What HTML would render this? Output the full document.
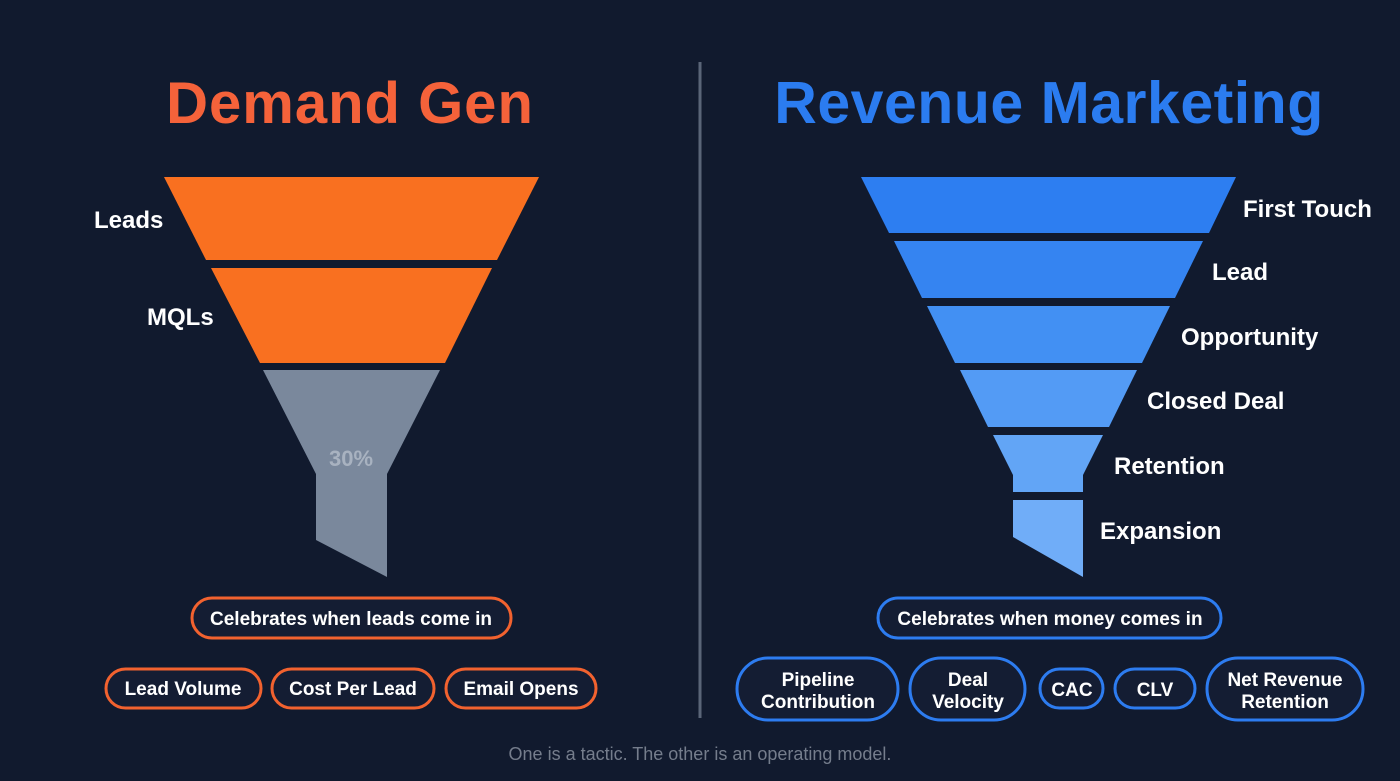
<!DOCTYPE html>
<html><head><meta charset="utf-8"><style>
html,body{margin:0;padding:0;background:#111a2e;}
svg{display:block}
text{font-family:"Liberation Sans",sans-serif;}
</style></head><body>
<svg width="1400" height="781" viewBox="0 0 1400 781" xmlns="http://www.w3.org/2000/svg">
<rect width="1400" height="781" fill="#111a2e"/>
<line x1="700" y1="62" x2="700" y2="718" stroke="#5a6578" stroke-width="3"/>
<text x="350" y="123" text-anchor="middle" font-size="58" font-weight="bold" letter-spacing="1" fill="#f5623a">Demand Gen</text>
<text x="1049" y="123" text-anchor="middle" font-size="59" font-weight="bold" letter-spacing="0.5" fill="#2b7cf0">Revenue Marketing</text>

<!-- left funnel -->
<polygon points="164,177 539,177 497,260 206,260" fill="#f97020"/>
<polygon points="211,268 492,268 445,363 260,363" fill="#f97020"/>
<polygon points="263,370 440,370 387,474 387,577 316,540 316,474" fill="#7a889c"/>
<text x="351" y="466" text-anchor="middle" font-size="22" font-weight="bold" fill="#a8b2c0">30%</text>
<g font-size="24" font-weight="bold" fill="#fff">
<text x="94" y="228">Leads</text>
<text x="147" y="325">MQLs</text>
</g>

<!-- right funnel -->
<polygon points="861,177 1236,177 1209,233 889,233" fill="#2d7ef1"/>
<polygon points="894,241 1203,241 1175,298 922,298" fill="#3584f1"/>
<polygon points="927,306 1170,306 1142,363 955,363" fill="#4290f3"/>
<polygon points="960,370 1137,370 1109,427 988,427" fill="#539bf5"/>
<polygon points="993,435 1103,435 1083,475 1083,492 1013,492 1013,475" fill="#62a5f6"/>
<polygon points="1013,500 1083,500 1083,577 1013,537" fill="#70adf8"/>
<g font-size="24" font-weight="bold" fill="#fff">
<text x="1243" y="217">First Touch</text>
<text x="1212" y="280">Lead</text>
<text x="1181" y="345">Opportunity</text>
<text x="1147" y="409">Closed Deal</text>
<text x="1114" y="474">Retention</text>
<text x="1100" y="539">Expansion</text>
</g>

<!-- left pills -->
<g fill="#141d33" stroke="#f2622f" stroke-width="3">
<rect x="192" y="598" width="319" height="40" rx="20"/>
<rect x="106" y="669" width="155" height="39" rx="19.5"/>
<rect x="272" y="669" width="162" height="39" rx="19.5"/>
<rect x="446" y="669" width="150" height="39" rx="19.5"/>
</g>
<g font-size="19" font-weight="bold" fill="#fff" text-anchor="middle">
<text x="351" y="625">Celebrates when leads come in</text>
<text x="183" y="695">Lead Volume</text>
<text x="353" y="695">Cost Per Lead</text>
<text x="521" y="695">Email Opens</text>
</g>

<!-- right pills -->
<g fill="#141d33" stroke="#2d7cf0" stroke-width="3">
<rect x="878" y="598" width="343" height="40" rx="20"/>
<rect x="737" y="658" width="161" height="62" rx="31"/>
<rect x="910" y="658" width="115" height="62" rx="31"/>
<rect x="1040" y="669" width="63" height="39" rx="19.5"/>
<rect x="1115" y="669" width="80" height="39" rx="19.5"/>
<rect x="1207" y="658" width="156" height="62" rx="31"/>
</g>
<g font-size="19" font-weight="bold" fill="#fff" text-anchor="middle">
<text x="1050" y="625">Celebrates when money comes in</text>
<text x="818" y="686">Pipeline</text>
<text x="818" y="708">Contribution</text>
<text x="968" y="686">Deal</text>
<text x="968" y="708">Velocity</text>
<text x="1072" y="696">CAC</text>
<text x="1155" y="696">CLV</text>
<text x="1285" y="686">Net Revenue</text>
<text x="1285" y="708">Retention</text>
</g>

<text x="700" y="760" text-anchor="middle" font-size="18" fill="#757d8c">One is a tactic. The other is an operating model.</text>
</svg>
</body></html>
